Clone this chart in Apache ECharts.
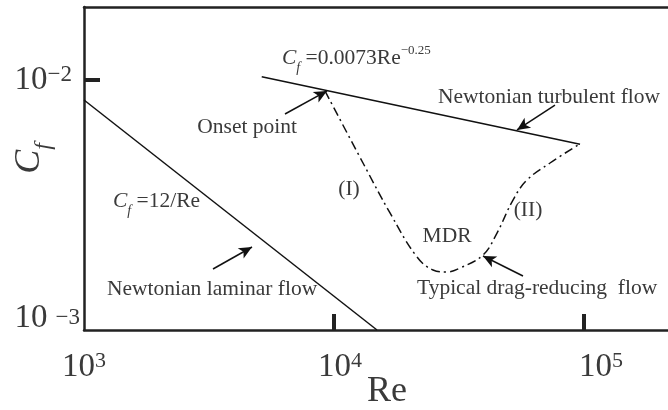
<!DOCTYPE html>
<html><head><meta charset="utf-8">
<script src="https://cdn.jsdelivr.net/npm/echarts@6/dist/echarts.min.js"></script>
<style>html,body{margin:0;padding:0;background:#fff}#c{width:668px;height:410px}</style>
</head><body><div id="c"></div>
<script>
// ---- data (Re, Cf) ----
const laminarRe = [1000, 14860];
const laminarCf = [0.00832, 0.001];
const turbulentRe = [5140, 96400];
const turbulentCf = [0.01031, 0.00553];
const dragRe = [9204, 13062, 16749, 21478, 24889, 28054, 31915, 39446, 44875, 52000, 59156, 73114, 94624];
const dragCf = [0.00904, 0.004656, 0.002938, 0.001959, 0.001738, 0.001706, 0.001770, 0.001995, 0.002443, 0.003311, 0.003981, 0.004656, 0.005495];
const xTickLabels = [1000, 10000, 100000];
const xTickMarks = [10000, 100000];
const yTickLabels = [0.001, 0.01];
const yTickMarks = [0.01];
const xRange = [1000, 216770];
const yRange = [0.001, 0.019588];
// annotation texts
const noteRe = [6194, 26062, 7112, 11482, 28314, 59704, 21478, 1306, 1236];
const noteCf = [0.01225, 0.00855, 0.00649, 0.003664, 0.002377, 0.00302, 0.001472, 0.003281, 0.001459];
const noteText = ['{i|C}{sub|f}{n| =0.0073Re}{sup|−0.25}', 'Newtonian turbulent flow', 'Onset point', '(I)', 'MDR', '(II)', 'Typical drag-reducing  flow', '{i|C}{sub|f}{n| =12/Re}', 'Newtonian laminar flow'];
const noteAlign = ['left', 'left', 'right', 'center', 'center', 'center', 'left', 'left', 'left'];
// arrows: tail -> head
const arrowFromRe = [6368, 76560, 3281, 57016];
const arrowFromCf = [0.00731, 0.007943, 0.001754, 0.001644];
const arrowToRe = [9376, 53951, 4699, 39446];
const arrowToCf = [0.00904, 0.00631, 0.002148, 0.001977];

const FF = '"Liberation Serif","Times New Roman",serif';
const TXT = '#3a3a3a';
const LINE = '#111';
const zip = (a, b) => a.map((v, i) => [v, b[i]]);
const sup = e => (e < 0 ? '−' + Math.abs(e) : String(e));

const chart = echarts.init(document.getElementById('c'), null, {renderer: 'canvas'});
const noteRich = {
  i: {fontFamily: FF, fontStyle: 'italic', fontSize: 21.5, color: TXT},
  sub: {fontFamily: FF, fontStyle: 'italic', fontSize: 14, color: TXT, verticalAlign: 'bottom', lineHeight: 14, padding: [0, 0, -6, 0]},
  n: {fontFamily: FF, fontSize: 21.5, color: TXT},
  sup: {fontFamily: FF, fontSize: 13, color: TXT, verticalAlign: 'top', lineHeight: 13, padding: [-3, 0, 0, 0]}
};
chart.setOption({
  animation: false,
  grid: {left: 84, top: 7, right: 0, bottom: 80, containLabel: false, outerBoundsMode: 'none'},
  xAxis: [{
    type: 'log', min: xRange[0], max: xRange[1], position: 'bottom',
    axisLine: {show: true, lineStyle: {color: '#222', width: 2.5}},
    axisTick: {show: true, inside: true, length: 16, lineStyle: {color: '#222', width: 4}, customValues: xTickMarks},
    axisLabel: {
      show: true, margin: 20, customValues: xTickLabels,
      formatter: v => {
        const e = Math.round(Math.log10(v));
        const pad = e === 5 ? '{w5|}' : (e === 4 ? '{w4|}' : '');
        return pad + '{b|10}{s|' + sup(e) + '}';
      },
      rich: {
        b: {fontFamily: FF, fontSize: 33, color: TXT, lineHeight: 34},
        s: {fontFamily: FF, fontSize: 22, color: TXT, verticalAlign: 'top', lineHeight: 21},
        w4: {width: 12, height: 1},
        w5: {width: 34, height: 1}
      }
    },
    splitLine: {show: false}, minorTick: {show: false},
    name: '{r|Re}', nameLocation: 'middle', nameGap: 44, nameMoveOverlap: false,
    nameTextStyle: {padding: [0, 0, 0, 22], rich: {r: {fontFamily: FF, fontSize: 36, color: TXT, lineHeight: 36}}}
  }, {
    type: 'log', min: xRange[0], max: xRange[1], position: 'top',
    axisLine: {show: true, lineStyle: {color: '#222', width: 2.5}},
    axisTick: {show: false}, axisLabel: {show: false}, splitLine: {show: false}
  }],
  yAxis: {
    type: 'log', min: yRange[0], max: yRange[1],
    axisLine: {show: true, lineStyle: {color: '#222', width: 2.5}},
    axisTick: {show: true, inside: true, length: 16, lineStyle: {color: '#222', width: 4}, customValues: yTickMarks},
    axisLabel: {
      show: true, margin: 4, customValues: yTickLabels, verticalAlignMinLabel: 'bottom',
      formatter: v => {
        const e = Math.round(Math.log10(v));
        return e === -3 ? '{b3|10}{g|}{s3|' + sup(e) + '}' : '{b|10}{s|' + sup(e) + '}{e|}';
      },
      rich: {
        b: {fontFamily: FF, fontSize: 33, color: TXT, lineHeight: 34},
        b3: {fontFamily: FF, fontSize: 33, color: TXT, lineHeight: 24},
        g: {width: 8, height: 1},
        e: {width: 8, height: 1},
        s: {fontFamily: FF, fontSize: 23, color: TXT, verticalAlign: 'top', lineHeight: 21},
        s3: {fontFamily: FF, fontSize: 23, color: TXT, verticalAlign: 'top', lineHeight: 2}
      }
    },
    splitLine: {show: false}, minorTick: {show: false},
    name: '{c|C}{f|f}', nameLocation: 'middle', nameRotate: 90, nameGap: 36, nameMoveOverlap: false,
    nameTextStyle: {padding: [0, 0, 0, 20], rich: {
      c: {fontFamily: FF, fontStyle: 'italic', fontSize: 36, color: TXT, lineHeight: 36},
      f: {fontFamily: FF, fontStyle: 'italic', fontSize: 24, color: TXT, verticalAlign: 'bottom', lineHeight: 24, padding: [0, 0, -8, 0]}
    }}
  },
  series: [{
    type: 'line', data: zip(laminarRe, laminarCf), showSymbol: false, symbol: 'none',
    lineStyle: {color: LINE, width: 1.5}
  }, {
    type: 'line', data: zip(turbulentRe, turbulentCf), showSymbol: false, symbol: 'none',
    lineStyle: {color: LINE, width: 1.5}
  }, {
    type: 'line', data: zip(dragRe, dragCf), showSymbol: false, symbol: 'none', smooth: 0.4,
    lineStyle: {color: LINE, width: 1.5, type: [9, 4, 2, 4]}
  }, {
    type: 'line', data: [], symbol: 'none',
    markLine: {
      silent: true, animation: false, symbol: ['none', 'arrow'], symbolSize: [9, 13],
      label: {show: false}, lineStyle: {color: LINE, width: 1.5, type: 'solid'},
      emphasis: {disabled: true},
      data: arrowFromRe.map((r, i) => [{coord: [r, arrowFromCf[i]]}, {coord: [arrowToRe[i], arrowToCf[i]]}])
    },
    markPoint: {
      silent: true, animation: false, symbol: 'circle', symbolSize: 0,
      data: noteRe.map((r, i) => ({
        coord: [r, noteCf[i]], value: 0,
        label: {show: true, position: 'inside', align: noteAlign[i], verticalAlign: 'middle',
          formatter: noteText[i].startsWith('{') ? noteText[i] : '{n|' + noteText[i] + '}', rich: noteRich}
      }))
    }
  }]
});
</script></body></html>
